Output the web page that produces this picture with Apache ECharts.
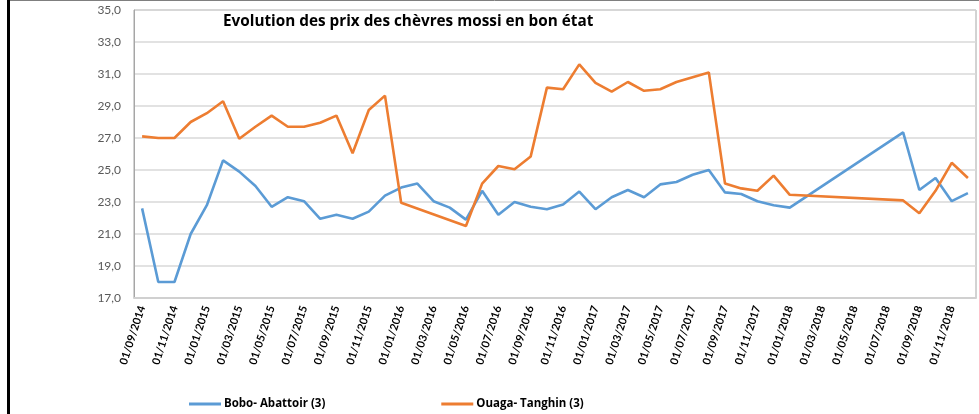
<!DOCTYPE html>
<html>
<head>
<meta charset="utf-8">
<script src="https://cdn.jsdelivr.net/npm/echarts@6/dist/echarts.min.js"></script>
<style>
html,body{margin:0;padding:0;background:#fff;}
#c{width:979px;height:414px;}
</style>
</head>
<body>
<div id="c"></div>
<script>
var categories = [
"01/09/2014","01/10/2014","01/11/2014","01/12/2014",
"01/01/2015","01/02/2015","01/03/2015","01/04/2015","01/05/2015","01/06/2015","01/07/2015","01/08/2015","01/09/2015","01/10/2015","01/11/2015","01/12/2015",
"01/01/2016","01/02/2016","01/03/2016","01/04/2016","01/05/2016","01/06/2016","01/07/2016","01/08/2016","01/09/2016","01/10/2016","01/11/2016","01/12/2016",
"01/01/2017","01/02/2017","01/03/2017","01/04/2017","01/05/2017","01/06/2017","01/07/2017","01/08/2017","01/09/2017","01/10/2017","01/11/2017","01/12/2017",
"01/01/2018","01/02/2018","01/03/2018","01/04/2018","01/05/2018","01/06/2018","01/07/2018","01/08/2018","01/09/2018","01/10/2018","01/11/2018","01/12/2018"
];
var boboAbattoir = [
22.6,18.0,18.0,21.0,
22.8,25.6,24.9,24.0,22.7,23.3,23.05,21.95,22.2,21.95,22.4,23.4,
23.9,24.15,23.05,22.65,21.9,23.7,22.2,23.0,22.7,22.55,22.85,23.65,
22.55,23.3,23.75,23.3,24.1,24.25,24.7,25.0,23.6,23.5,23.05,22.8,
22.65,null,null,null,null,null,null,27.35,23.75,24.5,23.05,23.55
];
var ouagaTanghin = [
27.1,27.0,27.0,28.0,
28.55,29.3,26.95,27.7,28.4,27.7,27.7,27.95,28.4,26.05,28.75,29.65,
22.95,null,null,null,21.5,24.15,25.25,25.05,25.85,30.15,30.05,31.6,
30.45,29.9,30.5,29.95,30.05,30.5,30.8,31.1,24.15,23.85,23.7,24.65,
23.45,null,null,null,null,null,null,23.1,22.3,23.7,25.45,24.5
];
var seriesNames = ["Bobo- Abattoir (3)", "Ouaga- Tanghin (3)"];
var titleText = "Evolution des prix des chèvres mossi en bon état";

var chart = echarts.init(document.getElementById('c'), null, {renderer:'canvas'});
chart.setOption({
  backgroundColor:'#fff',
  animation:false,
  title:{
    text:titleText,
    left:218, top:9,
    textStyle:{fontFamily:'Open Sans', fontWeight:'bold', fontSize:15.3, color:'#000'}
  },
  legend:{
    left:184, top:393,
    itemGap:116, itemWidth:32, itemHeight:3,
    icon:'rect',
    textStyle:{fontFamily:'Open Sans', fontWeight:'bold', fontSize:11.5, color:'#000', padding:[0,0,0,-2]},
    data:seriesNames
  },
  grid:{left:134, right:3, top:10, bottom:116, show:true, borderColor:'#a6a6a6', borderWidth:1},
  xAxis:{
    type:'category',
    data:categories,
    boundaryGap:true,
    axisLine:{lineStyle:{color:'#d0d0d0', width:2}},
    axisTick:{show:false},
    axisLabel:{interval:1, rotate:72, fontFamily:'Lato', fontWeight:'bold', fontSize:11, color:'#000', margin:8}
  },
  yAxis:{
    type:'value', min:17, max:35, interval:2,
    axisLine:{show:true, lineStyle:{color:'#a6a6a6'}},
    axisTick:{show:false},
    splitLine:{lineStyle:{color:'#d9d9d9', width:1.5}},
    axisLabel:{fontFamily:'Lato', fontSize:12, color:'#595959', margin:13,
      formatter:function(v){return v.toFixed(1).replace('.',',');}}
  },
  series:[
    {name:seriesNames[0], type:'line', data:boboAbattoir, connectNulls:true, showSymbol:false, symbol:'none',
     lineStyle:{color:'#5B9BD5', width:2.6}, itemStyle:{color:'#5B9BD5'}},
    {name:seriesNames[1], type:'line', data:ouagaTanghin, connectNulls:true, showSymbol:false, symbol:'none',
     lineStyle:{color:'#ED7D31', width:2.6}, itemStyle:{color:'#ED7D31'}}
  ],
  graphic:[
    {type:'rect', shape:{x:7, y:0, width:3, height:414}, style:{fill:'#000'}},
    {type:'line', shape:{x1:10, y1:0.5, x2:979, y2:0.5}, style:{stroke:'#7f7f7f', lineWidth:1}}
  ]
});
</script>
</body>
</html>
